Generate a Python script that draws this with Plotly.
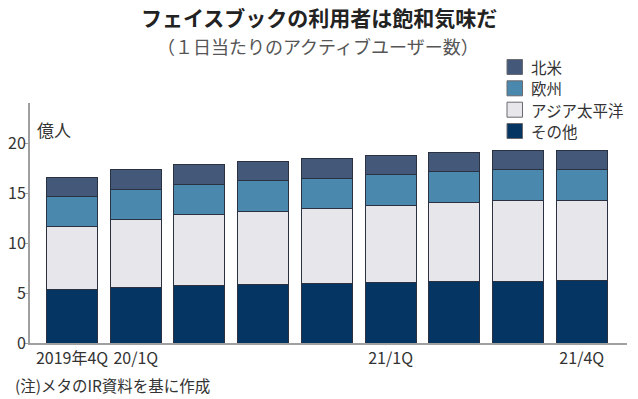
import plotly.graph_objects as go

quarters = ["2019年4Q", "20/1Q", "20/2Q", "20/3Q", "20/4Q", "21/1Q", "21/2Q", "21/3Q", "21/4Q"]
tick_labels = ["2019年4Q", "20/1Q", "", "", "", "21/1Q", "", "", "21/4Q"]

# Daily active users, 億人
other = [5.33, 5.51, 5.73, 5.83, 6.00, 6.09, 6.12, 6.20, 6.24]
asia_pacific = [6.37, 6.83, 7.09, 7.36, 7.44, 7.67, 7.95, 8.07, 8.06]
europe = [2.97, 3.05, 3.05, 3.05, 3.05, 3.07, 3.06, 3.07, 3.04]
north_america = [1.90, 1.95, 1.98, 1.96, 1.95, 1.95, 1.95, 1.96, 1.95]

series = [
    ("その他", other, "#043563"),
    ("アジア太平洋", asia_pacific, "#e6e6eb"),
    ("欧州", europe, "#4b88ad"),
    ("北米", north_america, "#44597a"),
]

JP = "Noto Sans CJK JP"
NUM = "Liberation Sans Narrow, Noto Sans CJK JP"

W, H = 638, 399
L, T = 30, 103
R = W - 627
B = H - 343
PW, PH = W - L - R, H - T - B


def px(x):
    return (x - L) / PW


def py(y):
    return (H - B - y) / PH


fig = go.Figure()
for name, vals, color in series:
    fig.add_trace(go.Bar(
        x=quarters, y=vals, name=name, showlegend=False,
        marker=dict(color=color, line=dict(color="#2a3140", width=1)),
    ))

annotations = [
    dict(text="<b>フェイスブックの利用者は飽和気味だ</b>",
         x=px(319), y=py(17), xanchor="center", yanchor="middle",
         font=dict(family=JP, size=21, color="#222222")),
    dict(text="（１日当たりのアクティブユーザー数）",
         x=px(318), y=py(46), xanchor="center", yanchor="middle",
         font=dict(family=JP, size=18, color="#555555")),
    dict(text="億人",
         x=px(35), y=py(129), xanchor="left", yanchor="middle",
         font=dict(family=JP, size=17, color="#333333")),
    dict(text="(注)メタのIR資料を基に作成",
         x=px(13), y=py(385), xanchor="left", yanchor="middle",
         font=dict(family=JP, size=15.5, color="#333333")),
]

shapes = []
# legend (top to bottom: 北米, 欧州, アジア太平洋, その他)
legend_rows = [67, 88.3, 109.7, 131]
for (name, vals, color), yc in zip(reversed(series), legend_rows):
    shapes.append(dict(type="rect", xref="paper", yref="paper",
                       x0=px(507), x1=px(522.5), y0=py(yc - 7.5), y1=py(yc + 7.5),
                       fillcolor=color, line=dict(color="#6a6a70", width=1)))
    annotations.append(dict(text=name, x=px(529), y=py(yc), xanchor="left", yanchor="middle",
                            font=dict(family=JP, size=15.5, color="#333333")))

for a in annotations:
    a.update(xref="paper", yref="paper", showarrow=False)

fig.update_layout(
    barmode="stack",
    bargap=0.2,
    width=W, height=H,
    margin=dict(l=L, r=R, t=T, b=B, autoexpand=False),
    paper_bgcolor="white",
    plot_bgcolor="white",
    showlegend=False,
    xaxis=dict(
        type="category",
        range=[-0.66, 8.71],
        tickmode="array",
        tickvals=quarters,
        ticktext=tick_labels,
        tickangle=0,
        ticks="",
        showline=True, linecolor="#a0a0a0", linewidth=2,
        showgrid=False,
        tickfont=dict(family=NUM, size=16, color="#333333"),
    ),
    yaxis=dict(
        range=[0, 24],
        tickvals=[0, 5, 10, 15, 20],
        ticks="outside", ticklen=4, tickcolor="#a0a0a0",
        ticklabelstandoff=-5,
        showline=True, linecolor="#a0a0a0", linewidth=2,
        showgrid=False, zeroline=False,
        tickfont=dict(family=NUM, size=16, color="#333333"),
    ),
    annotations=annotations,
    shapes=shapes,
)

fig.write_html("out.html", config={"displayModeBar": False},
               post_script="document.body.style.margin='0px';")
